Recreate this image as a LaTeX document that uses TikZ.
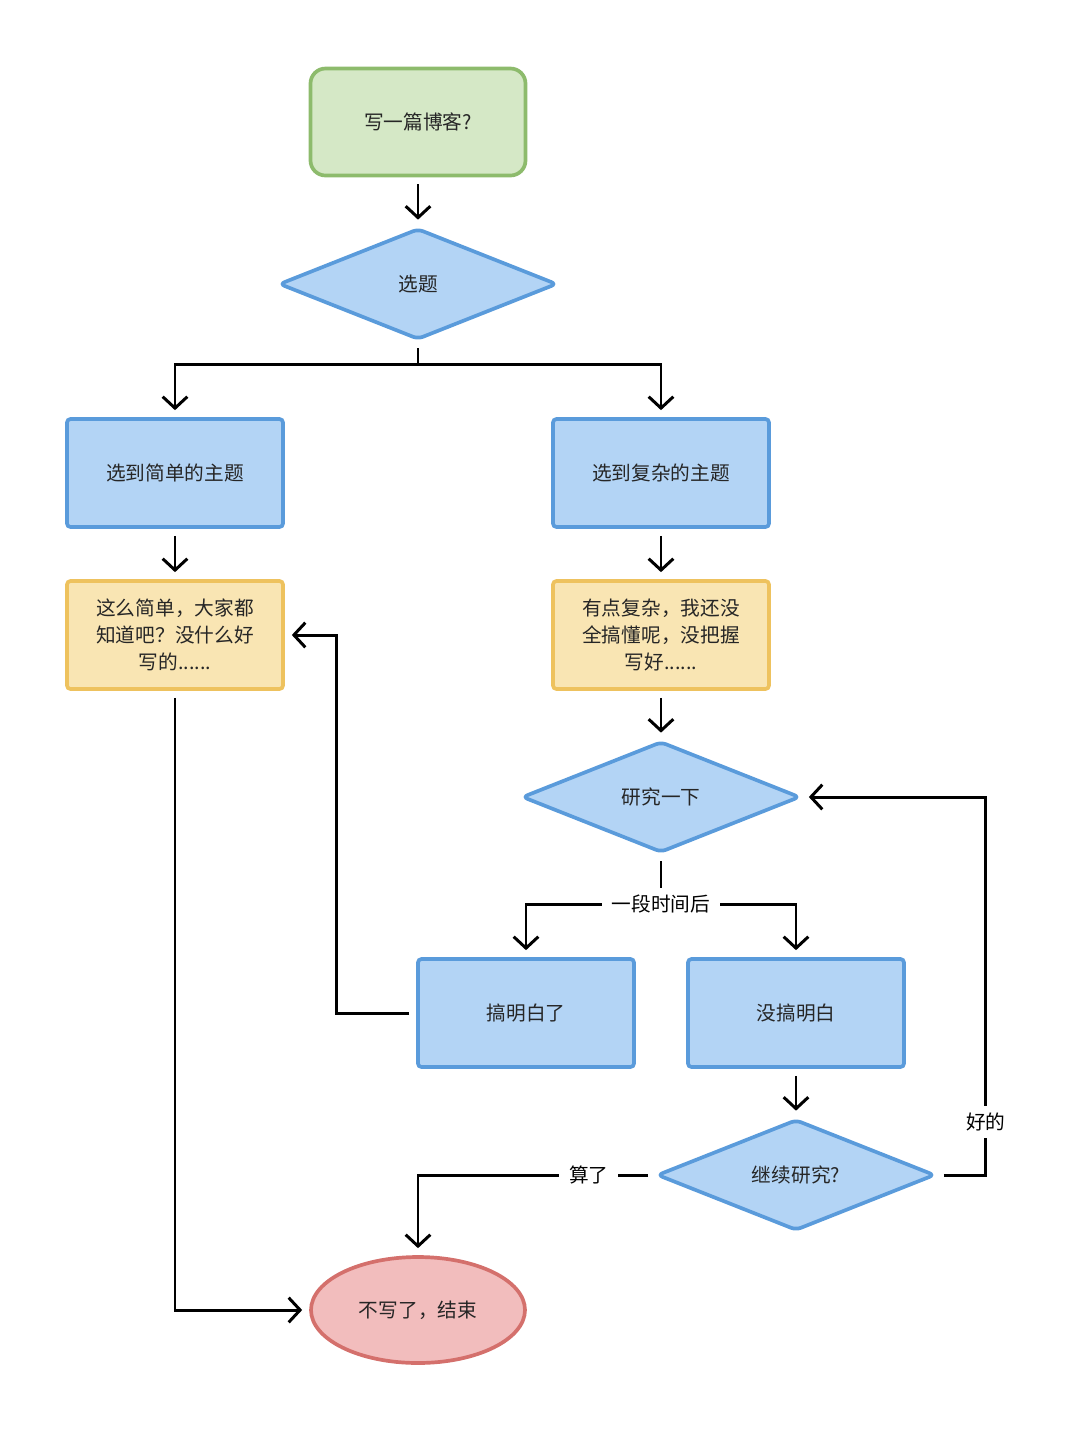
\documentclass[tikz,border=0pt]{standalone}
\usepackage{fontspec}
\newfontfamily\cjk{Noto Sans CJK SC}
\usetikzlibrary{positioning, arrows.meta, shapes.geometric}
\definecolor{greenfill}{HTML}{D5E8C6}
\definecolor{greenline}{HTML}{8DBB6C}
\definecolor{bluefill}{HTML}{B3D4F5}
\definecolor{blueline}{HTML}{5A9BDB}
\definecolor{yellowfill}{HTML}{F9E5B3}
\definecolor{yellowline}{HTML}{EEC25E}
\definecolor{redfill}{HTML}{F2BDBD}
\definecolor{redline}{HTML}{D4706C}
\definecolor{textgray}{HTML}{262626}

\begin{document}
\begin{tikzpicture}[->, >={Straight Barb[length=6.5pt, width=14pt]}, line width=1.7pt,
  shorten >=0.14cm, shorten <=0.14cm, node distance=3.24cm,
  every node/.style={font=\cjk\fontsize{11.2}{15.4}\selectfont, text=textgray},
  startbox/.style={draw=greenline, fill=greenfill, line width=2.1pt, rounded corners=0.3cm,
    minimum width=4.3cm, minimum height=2.14cm},
  bluebox/.style={draw=blueline, fill=bluefill, line width=2.1pt, rounded corners=2pt,
    minimum width=4.32cm, minimum height=2.16cm},
  notebox/.style={draw=yellowline, fill=yellowfill, line width=2.1pt, rounded corners=2pt,
    minimum width=4.32cm, minimum height=2.16cm, align=center},
  choice/.style={diamond, draw=blueline, fill=bluefill, line width=2.1pt, rounded corners=3pt,
    minimum width=5.56cm, minimum height=2.22cm, inner sep=0pt},
  endbox/.style={ellipse, draw=redline, fill=redfill, line width=2.1pt,
    minimum width=4.28cm, minimum height=2.12cm},
  lbl/.style={fill=white, text=black, inner xsep=0.2cm, inner ysep=0.14cm}]
\useasboundingbox (0,0) rectangle (21.6,-28.62);

\node[startbox] (start) at (8.36,-2.44) {写一篇博客?};
\node[choice] (pick) [below of=start] {选题};
\node[bluebox] (simple) [below of=pick, xshift=-4.86cm, yshift=-0.54cm] {选到简单的主题};
\node[bluebox] (hard) [below of=pick, xshift=4.86cm, yshift=-0.54cm] {选到复杂的主题};
\node[notebox] (easytxt) [below of=simple] {这么简单，大家都\\知道吧？没什么好\\写的......};
\node[notebox] (hardtxt) [below of=hard] {有点复杂，我还没\\全搞懂呢，没把握\\写好......};
\node[choice] (study) [below of=hardtxt] {研究一下};
\node[bluebox] (got) [below of=study, xshift=-2.7cm, yshift=-1.08cm] {搞明白了};
\node[bluebox] (notgot) [below of=study, xshift=2.7cm, yshift=-1.08cm] {没搞明白};
\node[choice] (again) [below of=notgot] {继续研究?};
\node[endbox] (stop) [below of=again, xshift=-7.56cm, yshift=0.54cm] {不写了，结束};

\path (start) edge (pick);
\draw (pick.south) -- ++(0,-0.46) -| (simple);
\draw (pick.south) -- ++(0,-0.46) -| (hard);
\path (simple) edge (easytxt);
\path (hard) edge (hardtxt);
\path (hardtxt) edge (study);
\path (study.south) ++(0,-1.0) coordinate (fork);
\draw[-] (study) -- (fork);
\draw (fork) -| (got);
\draw (fork) -| (notgot);
\node[lbl] at (fork) {一段时间后};
\draw (got.west) -- ++(-1.6,0) |- (easytxt);
\draw (easytxt) |- (stop);
\path (notgot) edge (again);
\draw (again) -| node[lbl, pos=0.14] {算了} (stop);
\draw (again.east) -- ++(0.98,0) |- node[lbl, pos=0.07] {好的} (study);
\end{tikzpicture}
\end{document}
